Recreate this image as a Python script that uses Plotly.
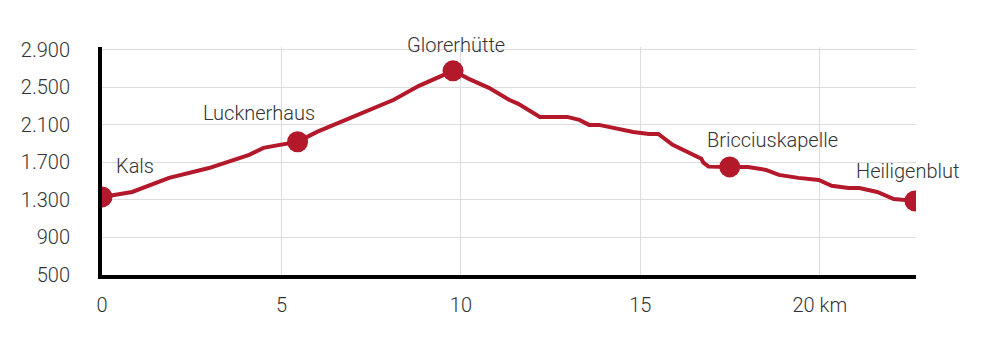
import plotly.graph_objects as go

# distance (km) and elevation (m)
distance = [0.0, 0.84, 1.87, 2.98, 4.1, 4.5, 4.8, 5.45, 5.99, 7.16, 8.13, 8.83, 9.39, 9.78,
            10.22, 10.78, 11.34, 11.6, 12.2, 12.96, 13.3, 13.57, 13.85, 14.26, 14.8, 15.24,
            15.5, 15.9, 16.5, 16.7, 16.75, 16.9, 17.49, 18.0, 18.5, 18.86, 19.4, 19.97,
            20.33, 20.8, 21.1, 21.6, 22.06, 22.65]
elevation = [1332, 1385, 1535, 1640, 1780, 1855, 1876, 1920, 2025, 2207, 2367, 2516, 2612, 2676,
             2590, 2495, 2367, 2324, 2185, 2185, 2153, 2100, 2100, 2068, 2025, 2004,
             2004, 1887, 1780, 1740, 1700, 1655, 1652, 1652, 1620, 1567, 1535, 1513,
             1450, 1428, 1428, 1385, 1310, 1290]

# points of interest
poi_names = ["Kals", "Lucknerhaus", "Glorerhütte", "Bricciuskapelle", "Heiligenblut"]
poi_dist = [0.0, 5.45, 9.78, 17.49, 22.65]
poi_elev = [1332, 1920, 2676, 1652, 1290]

y_ticks = [500, 900, 1300, 1700, 2100, 2500, 2900]
y_labels = ["500", "900", "1.300", "1.700", "2.100", "2.500", "2.900"]
x_ticks = [0, 5, 10, 15, 20]
x_labels = ["0", "5", "10", "15", "20 km"]

RED = "#B4182B"
TEXT = "#333333"
FONT = "Roboto"
FS = 20

fig = go.Figure()
fig.add_trace(go.Scatter(x=distance, y=elevation, mode="lines",
                         line=dict(color=RED, width=4), hoverinfo="skip"))
fig.add_trace(go.Scatter(x=poi_dist, y=poi_elev, mode="markers",
                         marker=dict(color=RED, size=21), hoverinfo="skip"))

# label offsets (pixels) relative to each marker
offsets = [(12, 31, "left"), (-39, 29, "center"), (3, 26, "center"), (43, 27, "center"), (-7, 30, "center")]
for name, xv, yv, (dx, dy, anc) in zip(poi_names, poi_dist, poi_elev, offsets):
    fig.add_annotation(x=xv, y=yv, text=name, showarrow=False, xanchor=anc, yanchor="middle",
                       xshift=dx, yshift=dy,
                       font=dict(family=FONT, size=FS, color=TEXT, weight=300))

fig.update_layout(
    width=992, height=357,
    margin=dict(l=102, r=76, t=47, b=82),
    paper_bgcolor="white", plot_bgcolor="white",
    showlegend=False,
    font=dict(family=FONT, size=FS, color=TEXT, weight=300),
)
fig.update_xaxes(range=[0, 22.68], tickvals=x_ticks, ticktext=x_labels,
                 showgrid=True, gridcolor="#dddddd", gridwidth=1,
                 showline=True, linecolor="black", linewidth=4,
                 ticks="outside", ticklen=9, tickcolor="rgba(0,0,0,0)",
                 zeroline=False, fixedrange=True,
                 tickfont=dict(family=FONT, size=FS, color=TEXT, weight=300))
fig.update_yaxes(range=[500, 2930], tickvals=y_ticks, ticktext=y_labels,
                 showgrid=True, gridcolor="#dddddd", gridwidth=1,
                 showline=True, linecolor="black", linewidth=4,
                 ticks="outside", ticklen=24, tickcolor="rgba(0,0,0,0)",
                 zeroline=False, fixedrange=True,
                 tickfont=dict(family=FONT, size=FS, color=TEXT, weight=300))

fig.write_html("out.html", config={"displayModeBar": False})
